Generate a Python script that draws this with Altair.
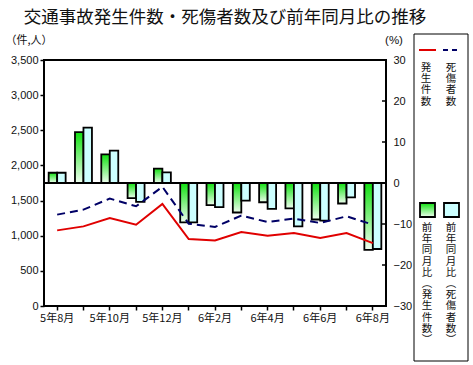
import altair as alt
import pandas as pd

months = ["5年8月", "5年9月", "5年10月", "5年11月", "5年12月", "6年1月", "6年2月",
          "6年3月", "6年4月", "6年5月", "6年6月", "6年7月", "6年8月"]
label_months = ["5年8月", "5年10月", "5年12月", "6年2月", "6年4月", "6年6月", "6年8月"]
accidents = [1076, 1133, 1253, 1157, 1453, 953, 933, 1053, 1000, 1038, 967, 1038, 895]
casualties = [1300, 1371, 1529, 1419, 1696, 1171, 1124, 1286, 1195, 1243, 1181, 1276, 1157]
acc_yoy = [2.5, 12.4, 7.0, -3.7, 3.5, -9.6, -5.4, -7.2, -4.7, -6.2, -8.9, -5.0, -16.3]
cas_yoy = [2.5, 13.5, 7.9, -4.6, 2.6, -9.6, -5.9, -4.3, -6.3, -10.6, -9.2, -3.5, -16.1]
count_ticks = [0, 500, 1000, 1500, 2000, 2500, 3000, 3500]
pct_ticks = [-30, -20, -10, 0, 10, 20, 30]
series_names = ["発生件数", "死傷者数"]

TITLE = "交通事故発生件数・死傷者数及び前年同月比の推移"
W, H = 342, 246
JP = "Noto Sans CJK JP"
NUM = "Liberation Sans"

wide = pd.DataFrame({"month": months, "accidents": accidents, "casualties": casualties})
long = pd.DataFrame({
    "month": months * 2,
    "series": [series_names[0]] * len(months) + [series_names[1]] * len(months),
    "pct": acc_yoy + cas_yoy,
})

green_grad = alt.LinearGradient(
    gradient="linear",
    stops=[alt.GradientStop(color="#10e010", offset=0),
           alt.GradientStop(color="#f0fff0", offset=1)],
    x1=0, x2=0, y1=0, y2=1,
)
CYAN = "#ccffff"

x_scale = alt.Scale(paddingInner=0, paddingOuter=0)
label_expr = "indexof(" + str(label_months).replace("'", '"') + ", datum.value) >= 0 ? datum.value : ''"
x_axis = alt.Axis(title=None, labelAngle=0, labelExpr=label_expr, labelFont=JP)
pct_scale = alt.Scale(domain=[-30, 30], nice=False, zero=False)
cnt_scale = alt.Scale(domain=[0, 3500], nice=False)
off_scale = alt.Scale(domain=series_names, paddingInner=0, paddingOuter=0.55)

bars_g = alt.Chart(long).transform_filter(alt.datum.series == series_names[0]).mark_bar(
    fill=green_grad, stroke="black", strokeWidth=1.8
).encode(
    x=alt.X("month:N", sort=months, scale=x_scale, axis=x_axis),
    xOffset=alt.XOffset("series:N", sort=series_names, scale=off_scale),
    y=alt.Y("pct:Q", scale=pct_scale,
            axis=alt.Axis(orient="right", title=None, values=pct_ticks, format="d",
                          tickSize=0, labelPadding=7)),
)
bars_c = alt.Chart(long).transform_filter(alt.datum.series == series_names[1]).mark_bar(
    fill=CYAN, stroke="black", strokeWidth=1.8
).encode(
    x=alt.X("month:N", sort=months, scale=x_scale),
    xOffset=alt.XOffset("series:N", sort=series_names, scale=off_scale),
    y=alt.Y("pct:Q", scale=pct_scale, axis=None),
)
zero_rule = alt.Chart(pd.DataFrame({"z": [0]})).mark_rule(color="black", strokeWidth=2).encode(
    y=alt.Y("z:Q", scale=pct_scale, axis=None)
)
right_ticks = alt.Chart(pd.DataFrame({"v": pct_ticks})).mark_rule(color="black", strokeWidth=1.5).encode(
    y=alt.Y("v:Q", scale=pct_scale, axis=None), x=alt.value(W - 4), x2=alt.value(W)
)
red_line = alt.Chart(wide).mark_line(color="#e00000", strokeWidth=2).encode(
    x=alt.X("month:N", sort=months, scale=x_scale),
    y=alt.Y("accidents:Q", scale=cnt_scale,
            axis=alt.Axis(orient="left", title=None, values=count_ticks, format=",.0f",
                          tickSize=4, labelPadding=2)),
)
navy_line = alt.Chart(wide).mark_line(color="#000066", strokeWidth=2, strokeDash=[8, 5]).encode(
    x=alt.X("month:N", sort=months, scale=x_scale),
    y=alt.Y("casualties:Q", scale=cnt_scale, axis=None),
)


def txt(s, x, y, size=11, font=JP, align="center", baseline="middle", **kw):
    return alt.Chart(pd.DataFrame({"t": [s]})).mark_text(
        font=font, fontSize=size, align=align, baseline=baseline, color="#111", **kw
    ).encode(text="t:N", x=alt.value(x), y=alt.value(y))


def vtxt(s, x, y):
    return txt("\n".join(list(s)), x, y, size=10.5, baseline="top", lineBreak="\n", lineHeight=11.2)


def box(x, x2, y, y2, **kw):
    return alt.Chart(pd.DataFrame({"t": [0]})).mark_rect(**kw).encode(
        x=alt.value(x), x2=alt.value(x2), y=alt.value(y), y2=alt.value(y2))


def seg(x, x2, y, **kw):
    return alt.Chart(pd.DataFrame({"t": [0]})).mark_rule(**kw).encode(
        x=alt.value(x), x2=alt.value(x2), y=alt.value(y))


annotations = [
    txt(TITLE, 181, -42, size=17.5),
    txt("（件,人）", -15, -19, size=11),
    txt("(%)", 350, -19, size=11.5, font=NUM),
    box(370, 424, -26, 301, fill="white", stroke="black", strokeWidth=1),
    seg(375, 392, -10, color="#e00000", strokeWidth=2),
    seg(399, 416, -10, color="#000066", strokeWidth=2, strokeDash=[5, 4]),
    vtxt("発生件数", 382, 3),
    vtxt("死傷者数", 407, 3),
    box(376, 391, 143, 157, fill=green_grad, stroke="black", strokeWidth=1.8),
    box(400, 415, 143, 157, fill=CYAN, stroke="black", strokeWidth=1.8),
    vtxt("前年同月比︵発生件数︶", 383, 163),
    vtxt("前年同月比︵死傷者数︶", 407, 163),
]

chart = alt.layer(
    bars_g, bars_c, zero_rule, right_ticks, red_line, navy_line, *annotations
).resolve_scale(y="independent").properties(
    width=W, height=H,
    autosize=alt.AutoSizeParams(type="none"),
    padding={"left": 44, "top": 60, "right": 473 - 44 - W, "bottom": 365 - 60 - H},
    background="white",
).configure_view(
    stroke="black", strokeWidth=2
).configure_axis(
    domain=False, grid=False, labelFont=NUM, labelFontSize=11, labelColor="#111",
    tickColor="black", tickWidth=1.5, tickSize=4, labelPadding=2,
)

chart.save("out.html", embed_options={"renderer": "svg", "actions": False})
